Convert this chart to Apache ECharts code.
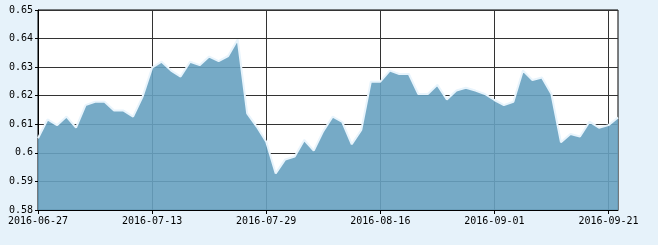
<!DOCTYPE html>
<html><head><meta charset="utf-8">
<script src="https://cdn.jsdelivr.net/npm/echarts@6/dist/echarts.min.js"></script>
<style>html,body{margin:0;padding:0;background:#e6f2fa;}#c{width:658px;height:245px;}</style>
</head><body><div id="c"></div>
<script>
var dates = ['2016-06-27','2016-06-28','2016-06-29','2016-06-30','2016-07-01','2016-07-04','2016-07-05','2016-07-06','2016-07-07','2016-07-08','2016-07-11','2016-07-12','2016-07-13',
'2016-07-14','2016-07-15','2016-07-18','2016-07-19','2016-07-20','2016-07-21','2016-07-22','2016-07-25','2016-07-26','2016-07-27','2016-07-28','2016-07-29',
'2016-08-01','2016-08-02','2016-08-03','2016-08-04','2016-08-05','2016-08-08','2016-08-09','2016-08-10','2016-08-11','2016-08-12','2016-08-15','2016-08-16',
'2016-08-17','2016-08-18','2016-08-19','2016-08-22','2016-08-23','2016-08-24','2016-08-25','2016-08-26','2016-08-29','2016-08-30','2016-08-31','2016-09-01',
'2016-09-02','2016-09-05','2016-09-06','2016-09-07','2016-09-08','2016-09-09','2016-09-12','2016-09-13','2016-09-14','2016-09-19','2016-09-20','2016-09-21',
'2016-09-22'];
var values = [0.6051,0.6117,0.6097,0.6127,0.6088,0.6167,0.6179,0.6179,0.6148,0.6148,0.6127,0.6197,0.6298,
0.6319,0.6288,0.6267,0.6319,0.6307,0.6337,0.6321,0.6339,0.6397,0.6138,0.6092,0.6039,
0.5928,0.5977,0.5987,0.6045,0.6008,0.6076,0.6127,0.6108,0.6030,0.6080,0.6249,0.6249,
0.6288,0.6276,0.6276,0.6206,0.6206,0.6238,0.6187,0.6218,0.6228,0.6218,0.6206,0.6185,
0.6167,0.6179,0.6288,0.6255,0.6264,0.6206,0.6037,0.6066,0.6057,0.6109,0.6088,0.6097,
0.6124];
var yMin = 0.58, yMax = 0.65, yStep = 0.01;
var font = 'DejaVu Sans Mono';
var chart = echarts.init(document.getElementById('c'), null, {renderer:'canvas'});
chart.setOption({
  backgroundColor: '#e6f2fa',
  animation: false,
  grid: {left:38, right:40, top:10, bottom:35, show:true, backgroundColor:'#ffffff', borderColor:'#000', borderWidth:1},
  xAxis: {
    type:'category', data:dates, boundaryGap:false,
    axisLine:{lineStyle:{color:'#000', width:1}},
    axisTick:{interval:11, length:4, lineStyle:{color:'#000'}},
    axisLabel:{interval:11, color:'#000', fontFamily:font, fontSize:10, margin:6},
    splitLine:{show:true, interval:11, lineStyle:{color:'#333', width:1}}
  },
  yAxis: {
    type:'value', min:yMin, max:yMax, interval:yStep,
    axisLine:{show:true, lineStyle:{color:'#000', width:1}},
    axisTick:{show:true, length:3, lineStyle:{color:'#000'}},
    axisLabel:{color:'#000', fontFamily:font, fontSize:10, margin:5},
    splitLine:{show:true, lineStyle:{color:'#333', width:1}}
  },
  series: [{
    type:'line', data:values, symbol:'none', smooth:false,
    lineStyle:{color:'#e8f4fc', width:2},
    areaStyle:{color:'rgb(103,161,192)', opacity:0.9},
    z:1
  }]
});
</script></body></html>
